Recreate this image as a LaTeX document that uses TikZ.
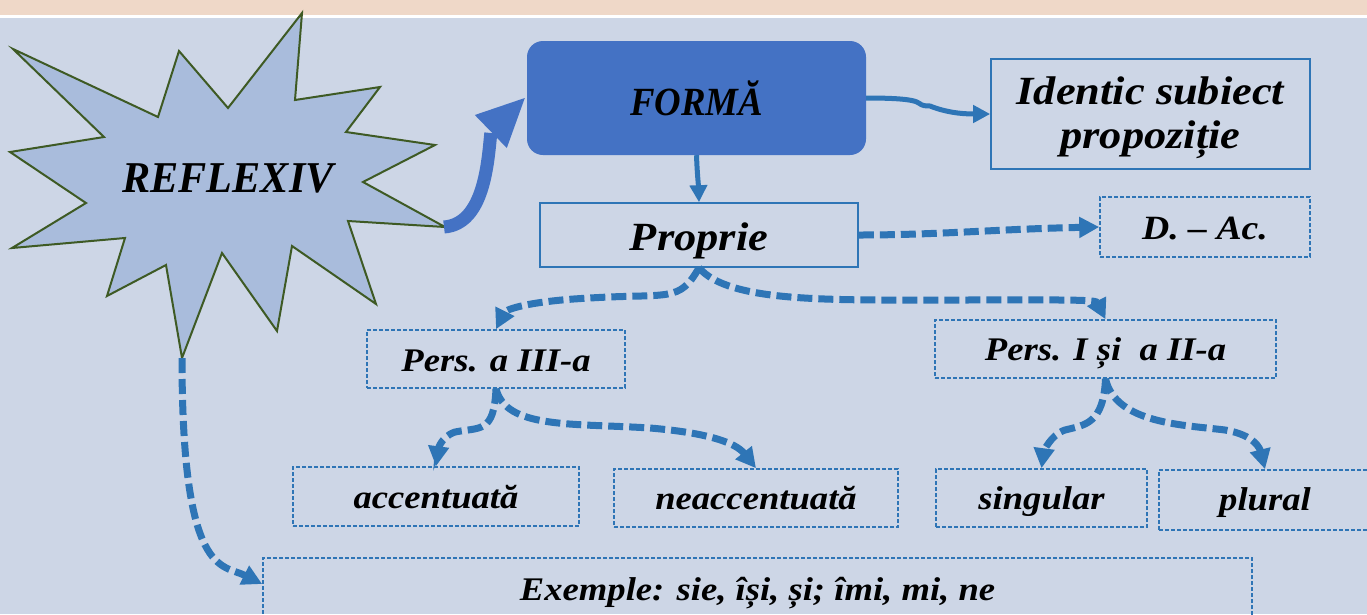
\documentclass[tikz,border=0pt]{standalone}
\usepackage{fontspec}
\setmainfont{Liberation Serif}
\newfontfamily\widefont{Liberation Serif}[FakeStretch=1.11]
\newfontfamily\capfont{Liberation Serif}[FakeStretch=0.92]
\newfontfamily\reflfont{Liberation Serif}[FakeStretch=0.96]
\usetikzlibrary{arrows.meta,calc}
\definecolor{bg}{HTML}{CDD6E6}
\definecolor{band}{HTML}{EFD8C8}
\definecolor{starfill}{HTML}{A9BCDC}
\definecolor{stardraw}{HTML}{3E5A24}
\definecolor{formfill}{HTML}{4472C4}
\definecolor{lineblue}{HTML}{2E75B6}
\tikzset{
  txt/.style={text=black, inner sep=0pt, align=center},
  solidbox/.style={txt, draw=lineblue, line width=1.6pt},
  dashbox/.style={txt, draw=lineblue, line width=1.6pt, dash pattern=on 4pt off 2pt},
  small/.style={font=\widefont\fontsize{33}{40}\selectfont\bfseries\itshape, text height=27pt, text depth=2pt},
  conn/.style={draw=lineblue, line width=5pt, -{Triangle[length=17pt,width=17pt]}},
  dconn/.style={draw=lineblue, line width=7pt, dash pattern=on 15pt off 6pt, -{Triangle[length=20pt,width=20pt]}},
}
\begin{document}
\begin{tikzpicture}[x=1pt,y=-1pt]
\useasboundingbox (0,0) rectangle (1367,614);
\fill[bg] (0,0) rectangle (1367,614);
\fill[band] (0,0) rectangle (1367,15);
\fill[white] (0,15) rectangle (1367,17.5);

% star
\filldraw[fill=starfill, draw=stardraw, line width=2pt, line join=miter]
 (13,49) -- (158,117) -- (179,51) -- (228,108) -- (302,13) -- (295,100) -- (380,87)
 -- (346,132) -- (435,145) -- (363,182) -- (445,227) -- (348,221) -- (376,304)
 -- (292,246) -- (277,331) -- (222,253) -- (182,358) -- (166,265) -- (107,296)
 -- (125,238) -- (12,248) -- (86,203) -- (10,152) -- (104,137) -- cycle;
\node[txt, font=\reflfont\fontsize{44}{50}\selectfont\bfseries\itshape] (refl) at (228,178) {REFLEXIV};
\coordinate (sttip) at (444,227);
\coordinate (stbot) at (182,358);

% nodes
\node[txt, fill=formfill, rounded corners=16pt, minimum width=339pt, minimum height=114pt,
      font=\capfont\fontsize{40}{48}\selectfont\bfseries\itshape] (forma) at (696.5,98) {FORMĂ};
\node[solidbox, minimum width=319pt, minimum height=110pt, text height=72pt, text depth=4pt,
      font=\widefont\fontsize{40}{44}\selectfont\bfseries\itshape] (ident) at (1150.5,114) {Identic subiect\\propoziție};
\node[solidbox, minimum width=318pt, minimum height=64pt, text height=32pt, text depth=2pt,
      font=\widefont\fontsize{40}{44}\selectfont\bfseries\itshape] (prop) at (699,235) {Proprie};
\node[dashbox, minimum width=210pt, minimum height=60pt, text height=26pt, text depth=2pt,
      font=\widefont\fontsize{34}{40}\selectfont\bfseries\itshape] (dac) at (1205,227) {D. – Ac.};
\node[dashbox, small, minimum width=258pt, minimum height=58pt] (p3) at (496,359) {Pers. a III-a};
\node[dashbox, small, minimum width=341pt, minimum height=58pt, text height=25pt, text depth=3pt] (p12) at (1105.5,349) {Pers. I și~ a II-a};
\node[dashbox, small, minimum width=286pt, minimum height=59pt, text height=26pt, text depth=3pt] (acc) at (436,496.5) {accentuată};
\node[dashbox, small, minimum width=284pt, minimum height=58pt, text height=26pt, text depth=3pt] (neacc) at (756,498) {neaccentuată};
\node[dashbox, small, minimum width=211pt, minimum height=58pt, text height=25pt, text depth=3pt] (sing) at (1041.5,498) {singular};
\node[dashbox, small, minimum width=212pt, minimum height=60pt, text height=24pt, text depth=4pt] (plur) at (1265,500) {plural};
\node[dashbox, small, minimum width=989pt, minimum height=64pt, text height=24pt, text depth=4pt] (exm) at (757.5,590) {Exemple: sie, își, și; îmi, mi, ne};

% connectors
\coordinate (bigtip) at ($(forma.west)+(-2,0)$);
\coordinate (bigbase) at ($(forma.west)+(-36,33)$);
\draw[formfill, line width=13pt] (sttip) .. controls +(40,-3) and +(-3,30) .. ([yshift=-2pt]bigbase);
\fill[formfill] (bigtip) -- ($(forma.west)+(-52,17)$) -- ($(forma.west)+(-20,50)$) -- cycle;
\draw[conn] (forma.east) .. controls +(70,0) and +(-20,0) .. (930,106) .. controls +(15,6) and +(-30,0) .. (ident.west);
\draw[conn] (forma.south) to[out=-88,in=92] (prop.north);
\draw[dconn] (prop.east) .. controls +(80,0) and +(-100,2) .. (dac.west);
\draw[dconn] (prop.south) .. controls +(-20,35) and +(80,-5) .. (590,298) .. controls +(-60,3) and +(10,-20) .. (p3.north);
\draw[dconn] (prop.south) .. controls +(30,35) and +(-120,0) .. (950,300) .. controls +(100,0) and +(-10,-20) .. (p12.north);
\draw[dconn] (p3.south) .. controls +(-2,45) and +(25,-5) .. (455,432) .. controls +(-15,5) and +(2,-15) .. (acc.north);
\draw[dconn] (p3.south) .. controls +(10,40) and +(-80,-5) .. (650,428) .. controls +(60,5) and +(-20,-25) .. (neacc.north);
\draw[dconn] (p12.south) .. controls +(-2,45) and +(20,-5) .. (1065,430) .. controls +(-15,5) and +(2,-15) .. (sing.north);
\draw[dconn] (p12.south) .. controls +(10,45) and +(-40,-5) .. (1225,430) .. controls +(30,5) and +(-5,-20) .. (plur.north);
\draw[dconn] (stbot) .. controls +(0,220) and +(-40,-20) .. ([yshift=6pt]exm.west);
\end{tikzpicture}
\end{document}
